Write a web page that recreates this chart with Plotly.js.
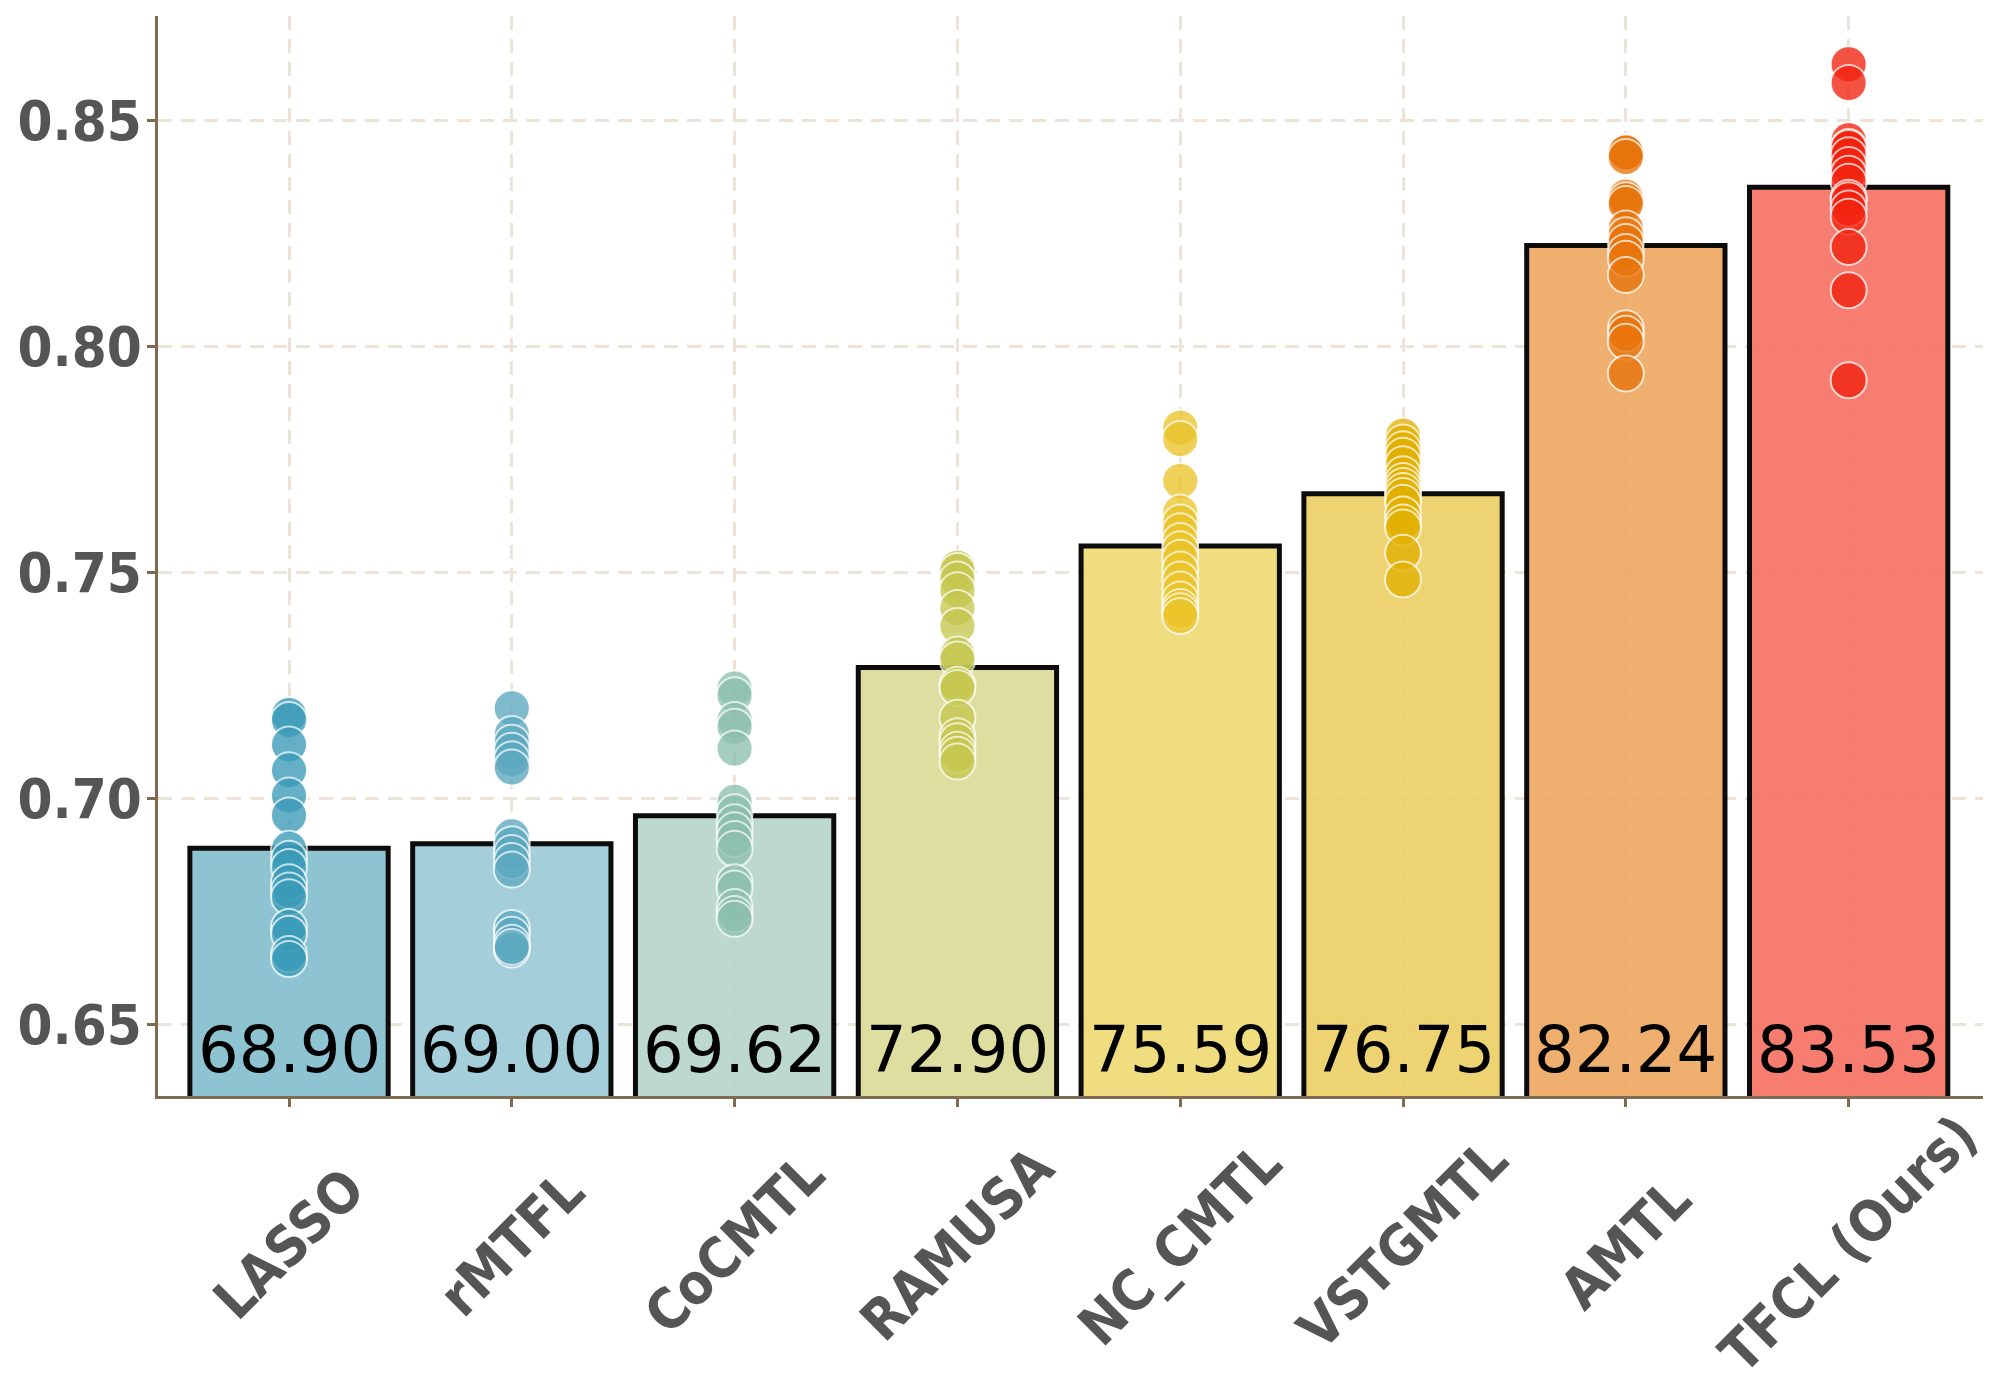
<!DOCTYPE html>
<html>
<head>
<meta charset="utf-8">
<script src="https://cdn.plot.ly/plotly-3.0.1.min.js"></script>
<style>
  html, body { margin: 0; padding: 0; background: #fff; }
  #chart { width: 2000px; height: 1400px; }
</style>
</head>
<body>
<div id="chart"></div>
<script>
// methods and mean scores
var methods = ['LASSO', 'rMTFL', 'CoCMTL', 'RAMUSA', 'NC_CMTL', 'VSTGMTL', 'AMTL', 'TFCL (Ours)']
var means = [0.6890, 0.6900, 0.6962, 0.7290, 0.7559, 0.7675, 0.8224, 0.8353]

// per-run scores
var runsLASSO = [0.7185, 0.7174, 0.7120, 0.7063, 0.7007, 0.6963, 0.6889, 0.6867, 0.6849, 0.6815, 0.6797, 0.6782, 0.6716, 0.6701, 0.6656, 0.6645]
var runsRMTFL = [0.7200, 0.7143, 0.7124, 0.7106, 0.7087, 0.7069, 0.6917, 0.6899, 0.6880, 0.6862, 0.6843, 0.6714, 0.6699, 0.6681, 0.6666, 0.6672]
var runsCoCMTL = [0.7244, 0.7229, 0.7174, 0.7159, 0.7111, 0.6993, 0.6970, 0.6948, 0.6930, 0.6911, 0.6889, 0.6815, 0.6801, 0.6760, 0.6745, 0.6734]
var runsRAMUSA = [0.7511, 0.7504, 0.7485, 0.7461, 0.7422, 0.7382, 0.7319, 0.7308, 0.7252, 0.7245, 0.7179, 0.7138, 0.7127, 0.7108, 0.7097, 0.7082]
var runsNCCMTL = [0.7821, 0.7796, 0.7703, 0.7633, 0.7611, 0.7592, 0.7570, 0.7552, 0.7533, 0.7507, 0.7485, 0.7463, 0.7441, 0.7424, 0.7415, 0.7404]
var runsVSTGMTL = [0.7803, 0.7788, 0.7773, 0.7759, 0.7740, 0.7718, 0.7703, 0.7692, 0.7681, 0.7670, 0.7655, 0.7629, 0.7611, 0.7600, 0.7544, 0.7485]
var runsAMTL = [0.8431, 0.8430, 0.8420, 0.8332, 0.8324, 0.8316, 0.8262, 0.8247, 0.8232, 0.8210, 0.8195, 0.8159, 0.8041, 0.8029, 0.8011, 0.7941]
var runsTFCL = [0.8625, 0.8584, 0.8457, 0.8442, 0.8440, 0.8424, 0.8402, 0.8383, 0.8365, 0.8330, 0.8324, 0.8306, 0.8288, 0.8221, 0.8125, 0.7926]
var runs = [runsLASSO, runsRMTFL, runsCoCMTL, runsRAMUSA, runsNCCMTL, runsVSTGMTL, runsAMTL, runsTFCL]

var barColors = ['#88C1D0', '#A0CCD8', '#BAD6CF', '#DDDD9C', '#F0DC7A', '#EDD16B', '#EFAB68', '#F67769']
var dotColors = ['#3A9BB8', '#5DA9C0', '#8CBFB0', '#C5C74E', '#EBC42A', '#E2B000', '#E8740A', '#F2220E']

var yMin = 0.6342, yMax = 0.8732
var spine = '#7F6A52'
var gridCol = '#EDE3D9'
var tickFamily = 'DejaVu Sans Condensed, DejaVu Sans'

var data = []
data.push({
  type: 'bar',
  x: methods,
  y: means,
  width: 0.89,
  marker: {color: barColors, opacity: 0.95, line: {color: '#000', width: 5}},
  hoverinfo: 'skip'
})

runs.forEach(function(r, i){
  data.push({
    type: 'scatter',
    mode: 'markers',
    x: r.map(function(){ return methods[i] }),
    y: r,
    marker: {size: 36, color: dotColors[i], opacity: 0.78,
             line: {color: 'rgba(255,255,255,0.9)', width: 2}},
    hoverinfo: 'skip',
    cliponaxis: false
  })
})

var annotations = []
methods.forEach(function(m, i){
  // score label at the foot of the bar
  annotations.push({
    x: m, y: yMin, xref: 'x', yref: 'y',
    text: (means[i] * 100).toFixed(2),
    showarrow: false, xanchor: 'center', yanchor: 'bottom', yshift: 7,
    font: {family: 'DejaVu Sans', size: 64, color: '#000'}
  })
  // rotated category label
  annotations.push({
    x: m, y: -0.137, xref: 'x', yref: 'paper',
    text: '<b>' + m + '</b>',
    textangle: -45,
    showarrow: false, xanchor: 'center', yanchor: 'middle',
    font: {family: tickFamily, size: 56, color: '#555555'}
  })
})

var layout = {
  width: 2000,
  height: 1400,
  margin: {l: 158, r: 17, t: 16, b: 304},
  paper_bgcolor: '#fff',
  plot_bgcolor: '#fff',
  showlegend: false,
  xaxis: {
    type: 'category',
    range: [-0.588, 7.603],
    showticklabels: false,
    showline: true, linecolor: spine, linewidth: 3,
    ticks: 'outside', ticklen: 8, tickwidth: 3, tickcolor: spine,
    showgrid: true, gridcolor: gridCol, gridwidth: 3, griddash: '14px,9px',
    zeroline: false
  },
  yaxis: {
    range: [yMin, yMax],
    tickvals: [0.65, 0.70, 0.75, 0.80, 0.85],
    ticktext: ['0.65', '0.70', '0.75', '0.80', '0.85'],
    tickfont: {family: tickFamily, size: 56, color: '#555555', weight: 'bold'},
    showline: true, linecolor: spine, linewidth: 3,
    ticks: 'outside', ticklen: 8, tickwidth: 3, tickcolor: spine,
    ticklabelstandoff: -6,
    showgrid: true, gridcolor: gridCol, gridwidth: 3, griddash: '14px,9px',
    zeroline: false
  },
  annotations: annotations
}

Plotly.newPlot('chart', data, layout, {displayModeBar: false, staticPlot: true})
</script>
</body>
</html>
